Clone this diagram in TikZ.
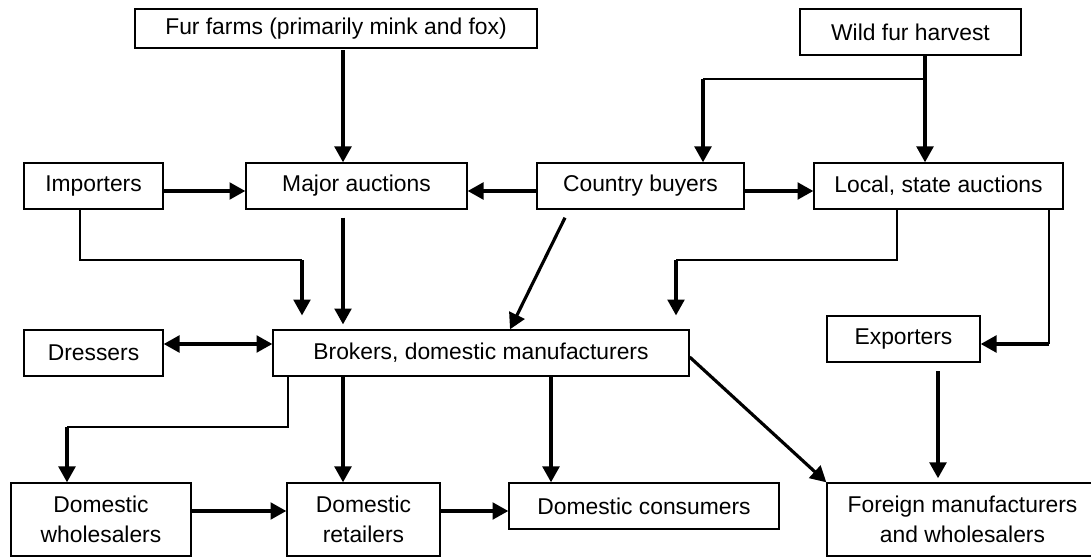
\documentclass[tikz,border=0pt]{standalone}
\usepackage{fontspec}
\setmainfont{Liberation Sans}
\usetikzlibrary{arrows.meta,calc}

\tikzset{
  box/.style={draw, line width=0.8pt, inner sep=0pt, align=center,
    minimum height=0.92cm, font=\fontsize{13}{17}\selectfont},
  tall/.style={minimum height=1.46cm},
  arr/.style={-{Triangle[length=9pt,width=9.5pt]}, line width=1.8pt},
  both/.style={{Triangle[length=9pt,width=9.5pt]}-{Triangle[length=9pt,width=9.5pt]}, line width=1.8pt},
  link/.style={line width=0.8pt},
}

\begin{document}
\begin{tikzpicture}[x=0.02cm, y=-0.02cm]
      \useasboundingbox (0,0) rectangle (1091,557);

      % Nodes
      \node[box, minimum width=8.04cm, minimum height=0.78cm] (farms) at (336,28.5) {Fur farms (primarily mink and fox)};
      \node[box, minimum width=4.42cm] (wild) at (910.5,32) {Wild fur harvest};
      \node[box, minimum width=2.78cm] (imp) at (93.5,186) {Importers};
      \node[box, minimum width=4.42cm] (major) at (356.5,186) {Major auctions};
      \node[box, minimum width=4.14cm] (country) at (640.5,186) {Country buyers};
      \node[box, minimum width=4.98cm] (local) at (938.5,186) {Local, state auctions};
      \node[box, minimum width=2.78cm] (dressers) at (93.5,353) {Dressers};
      \node[box, minimum width=8.32cm] (brokers) at (481,353) {Brokers, domestic manufacturers};
      \node[box, minimum width=3.06cm] (exporters) at (903.5,339) {Exporters};
      \node[box, tall, minimum width=3.6cm] (wholesalers) at (101,519.5) {Domestic\\wholesalers};
      \node[box, tall, minimum width=3.06cm] (retailers) at (363.5,519.5) {Domestic\\retailers};
      \node[box, minimum width=5.4cm] (consumers) at (644,506) {Domestic consumers};
      \node[box, tall, minimum width=5.42cm] (foreign) at (962.5,519.5) {Foreign manufacturers\\and wholesalers};

      % Columns, rows and bends
      \coordinate (colA) at (343,0);
      \coordinate (colB) at (925,0);
      \coordinate (colK) at (551,0);
      \coordinate (colL) at (938,0);
      \coordinate (rowA) at (0,191);
      \coordinate (rowD) at (0,344);
      \coordinate (rowF) at (0,511);
      \coordinate (wbend) at (703,79);
      \coordinate (ibend1) at (80,260);
      \coordinate (ibend2) at (302,260);
      \coordinate (lbend1) at (897,260);
      \coordinate (lbend2) at (676,260);
      \coordinate (lbend3) at (1049,344);
      \coordinate (bbend1) at (288,427);
      \coordinate (bbend2) at (67,427);

      % Top sources
      \draw[arr, shorten <=1pt] (farms.south -| colA) -- (major.north -| colA);
      \draw[arr] (wild.south -| colB) -- (local.north -| colB);
      \draw[link] (wbend -| colB) -- (wbend);
      \draw[arr] (wbend) -- (country.north -| wbend);

      % First row
      \draw[arr] (imp.east |- rowA) -- (major.west |- rowA);
      \draw[arr] (country.west |- rowA) -- (major.east |- rowA);
      \draw[arr] (country.east |- rowA) -- (local.west |- rowA);

      % Into brokers and exporters
      \draw[link] (imp.south -| ibend1) -- (ibend1) -- (ibend2);
      \draw[arr, shorten >=7.9pt] (ibend2) -- (brokers.north -| ibend2);
      \draw[arr, shorten <=4.5pt, shorten >=2.8pt] (major.south -| colA) -- (brokers.north -| colA);
      \draw[arr] ($(country.south)+(-75.5,8)$) -- ($(brokers.north)+(29,0)$);
      \draw[link] (local.south -| lbend1) -- (lbend1) -- (lbend2);
      \draw[arr, shorten >=7.9pt] (lbend2) -- (brokers.north -| lbend2);
      \draw[link] (local.south -| lbend3) -- (lbend3);
      \draw[arr] (lbend3) -- (exporters.east |- lbend3);
      \draw[both] (dressers.east |- rowD) -- (brokers.west |- rowD);

      % Out of brokers and exporters
      \draw[link] (brokers.south -| bbend1) -- (bbend1) -- (bbend2);
      \draw[arr] (bbend2) -- (wholesalers.north -| bbend2);
      \draw[arr] (brokers.south -| colA) -- (retailers.north -| colA);
      \draw[arr] (brokers.south -| colK) -- (consumers.north -| colK);
      \draw[arr] ($(brokers.east)+(0,4)$) -- (foreign.north west);
      \draw[arr, shorten <=5pt, shorten >=2.3pt] (exporters.south -| colL) -- (foreign.north -| colL);

      % Bottom row
      \draw[arr] (wholesalers.east |- rowF) -- (retailers.west |- rowF);
      \draw[arr] (retailers.east |- rowF) -- (consumers.west |- rowF);
    \end{tikzpicture}
\end{document}
